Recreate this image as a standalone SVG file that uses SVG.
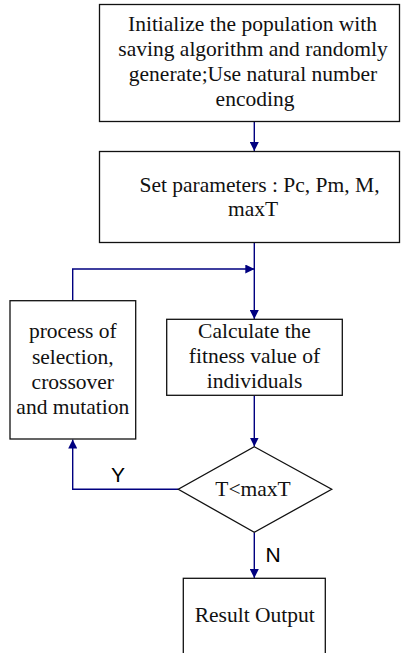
<svg xmlns="http://www.w3.org/2000/svg" width="401" height="653" viewBox="0 0 401 653">
<style>
.box{fill:#fff;stroke:#111;stroke-width:1.3}
.t{font-family:"Liberation Serif","Times New Roman",serif;font-size:21.5px;fill:#111;text-anchor:middle}
.l{font-family:"Liberation Sans",Arial,sans-serif;font-size:21px;fill:#000;text-anchor:middle}
.c{fill:none;stroke:#000080;stroke-width:1.4}
</style>
<defs>
<marker id="ah" viewBox="0 0 10 10" refX="10" refY="5" markerWidth="9" markerHeight="9" markerUnits="userSpaceOnUse" orient="auto">
<path d="M0,0 L10,5 L0,10 z" fill="#000080"/>
</marker>
</defs>
<rect width="401" height="653" fill="#fff"/>
<g id="connectors">
<line class="c" x1="254.3" y1="122" x2="254.3" y2="151" marker-end="url(#ah)"/>
<line class="c" x1="254.3" y1="243" x2="254.3" y2="319" marker-end="url(#ah)"/>
<polyline class="c" points="72.7,300.7 72.7,269 254.3,269" marker-end="url(#ah)"/>
<line class="c" x1="254.3" y1="395.5" x2="254.3" y2="446.5" marker-end="url(#ah)"/>
<polyline class="c" points="178.3,489.3 72.7,489.3 72.7,439.5" marker-end="url(#ah)"/>
<line class="c" x1="254.3" y1="532.5" x2="254.3" y2="578" marker-end="url(#ah)"/>
<text class="l" x="118" y="482">Y</text>
<text class="l" x="273" y="561.7">N</text>
</g>
<g id="init">
<rect class="box" x="99.5" y="4.5" width="300" height="117"/>
<text class="t" x="252.5" y="31">Initialize the population with</text>
<text class="t" x="253" y="56">saving algorithm and randomly</text>
<text class="t" x="253" y="81">generate;Use natural number</text>
<text class="t" x="255" y="106">encoding</text>
</g>
<g id="params">
<rect class="box" x="99.5" y="151.5" width="300" height="91"/>
<text class="t" x="259.5" y="191.5">Set parameters : Pc, Pm, M,</text>
<text class="t" x="253" y="216">maxT</text>
</g>
<g id="fitness">
<rect class="box" x="166.7" y="319.3" width="175.6" height="76"/>
<text class="t" x="254.5" y="338">Calculate the</text>
<text class="t" x="254.5" y="363">fitness value of</text>
<text class="t" x="254.5" y="388">individuals</text>
</g>
<g id="process">
<rect class="box" x="10" y="300.7" width="125.7" height="138.3"/>
<text class="t" x="72.8" y="338">process of</text>
<text class="t" x="72.8" y="363.5">selection,</text>
<text class="t" x="72.8" y="389">crossover</text>
<text class="t" x="72.8" y="414">and mutation</text>
</g>
<g id="decision">
<polygon class="box" points="254.3,446.7 331.7,489.3 254.3,532.3 178.3,489.3"/>
<text class="t" x="253" y="495.7">T&lt;maxT</text>
</g>
<g id="result">
<rect class="box" x="183.3" y="578.3" width="142" height="90"/>
<text class="t" x="254.7" y="622.3">Result Output</text>
</g>
</svg>
